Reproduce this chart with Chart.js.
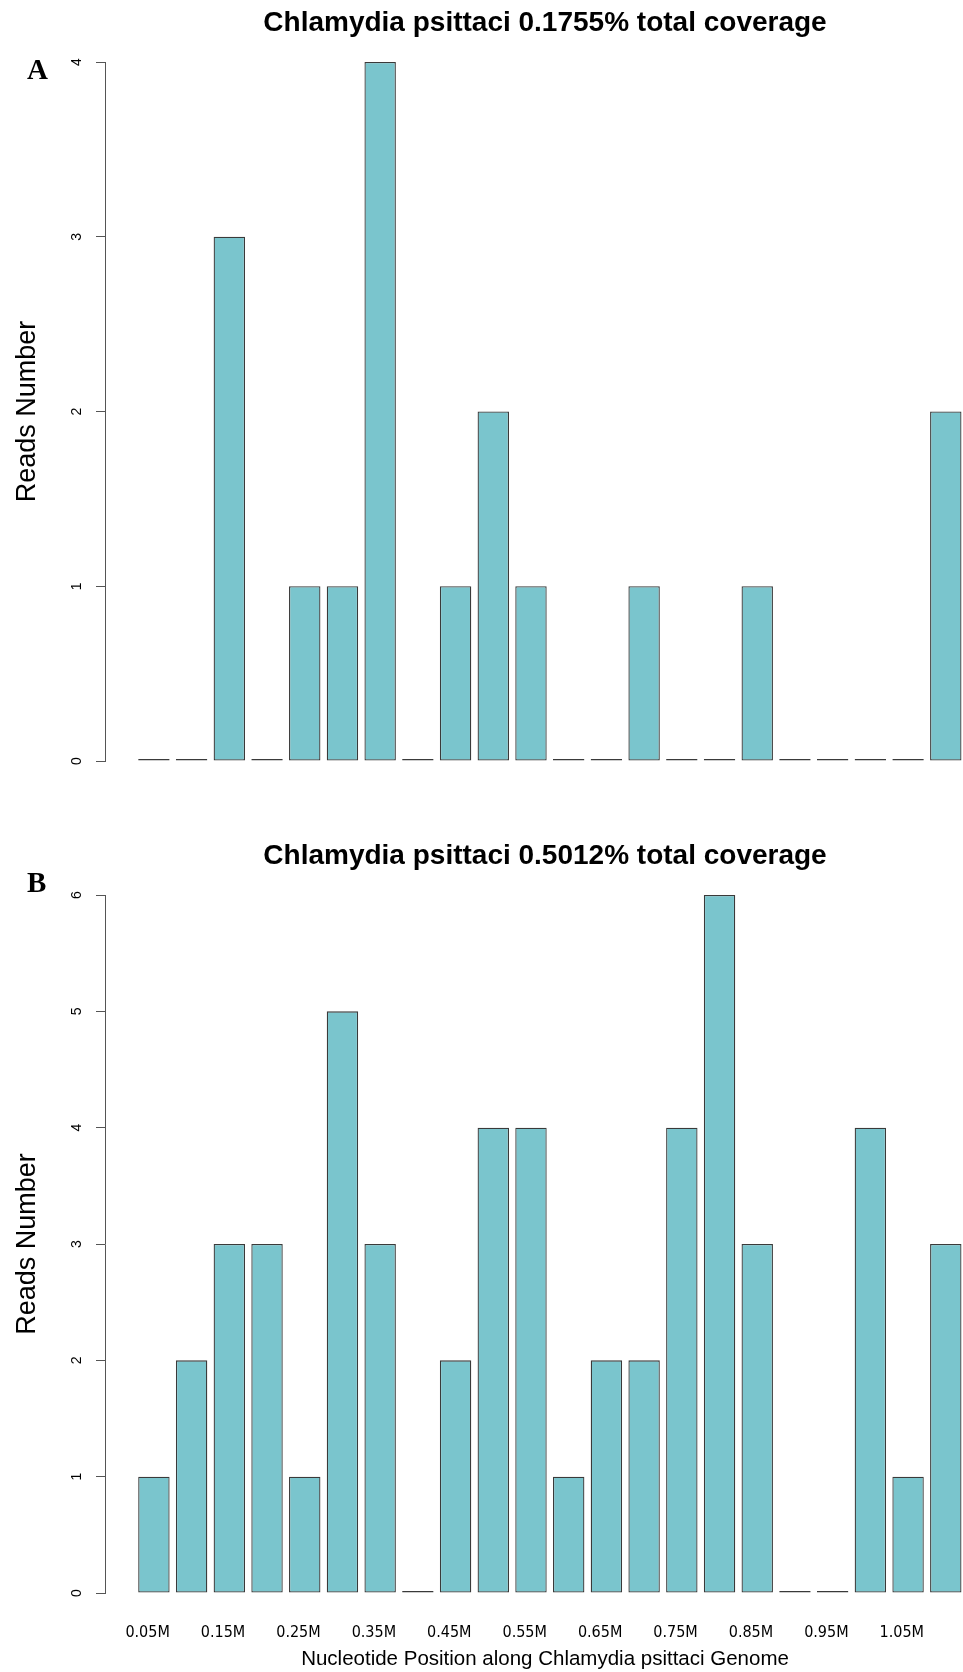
<!DOCTYPE html>
<html>
<head>
<meta charset="utf-8">
<script src="https://cdn.jsdelivr.net/npm/chart.js@4.4.1/dist/chart.umd.min.js"></script>
<style>
  html, body { margin: 0; padding: 0; background: #fff; }
  #page { position: relative; width: 963px; height: 1672px; overflow: hidden; }
  .box { position: absolute; left: 0; }
  #boxA { top: 0; }
  #boxB { top: 800px; }
  .tag { position: absolute; left: 27px; font-family: 'Liberation Serif', 'Times New Roman', serif;
         font-weight: bold; font-size: 29px; line-height: 29px; color: #000; }
</style>
</head>
<body>
<div id="page">
  <div class="box" id="boxA"><canvas id="chartA" width="985" height="800"></canvas></div>
  <div class="box" id="boxB"><canvas id="chartB" width="985" height="872"></canvas></div>
  <div class="tag" style="top:55px">A</div>
  <div class="tag" style="top:868px">B</div>
</div>
<script>
// ---- data ----
const positionLabels = ['0.05M', '0.15M', '0.25M', '0.35M', '0.45M', '0.55M',
                        '0.65M', '0.75M', '0.85M', '0.95M', '1.05M'];
const readsA = [0, 0, 3, 0, 1, 1, 4, 0, 1, 2, 1, 0, 0, 1, 0, 0, 1, 0, 0, 0, 0, 2];
const readsB = [1, 2, 3, 3, 1, 5, 3, 0, 2, 4, 4, 1, 2, 2, 4, 6, 3, 0, 0, 4, 1, 3];
const titleA = 'Chlamydia psittaci 0.1755% total coverage';
const titleB = 'Chlamydia psittaci 0.5012% total coverage';
const yTitle = 'Reads Number';
const xTitle = 'Nucleotide Position along Chlamydia psittaci Genome';

Chart.defaults.font.family = "'Liberation Sans', Arial, sans-serif";
Chart.defaults.color = '#000';

// label j sits every 2 bins, a little left of the bin centre (R axis positions)
const LABEL_START = -0.1667;
const LABEL_STEP = 2;

function makeChart(id, reads, title, yMax, showX, titlePad) {
   const ctx = document.getElementById(id).getContext('2d');
   return new Chart(ctx, {
      type: 'bar',
      data: {
         datasets: [{
            data: reads.map((v, i) => ({ x: i, y: v })),
            backgroundColor: '#7AC5CD',
            borderColor: '#3a3a3a',
            borderWidth: 1.3,
            borderSkipped: false,
            minBarLength: 2,
            barPercentage: 0.8333,
            categoryPercentage: 1,
         }],
      },
      options: {
         responsive: false,
         animation: false,
         layout: { padding: { left: 0, right: 0, top: 0, bottom: showX ? 0 : 39 } },
         scales: {
            x: {
               type: 'linear',
               display: showX,
               offset: false,
               min: -1.297,
               max: 22.04,
               grid: { display: false, drawTicks: false, offset: false },
               border: { display: false },
               afterBuildTicks: function(scale) {
                  scale.ticks = positionLabels.map((_, j) => ({ value: LABEL_START + j * LABEL_STEP }));
               },
               ticks: {
                  autoSkip: false,
                  minRotation: 0,
                  maxRotation: 0,
                  padding: 30,
                  font: { size: 16, family: "'Liberation Sans Narrow', 'DejaVu Sans Condensed', 'Liberation Sans', sans-serif" },
                  callback: (val, index) => positionLabels[index],
               },
               title: {
                  display: true,
                  text: xTitle,
                  font: { size: 20.5 },
                  padding: { top: 6, bottom: 0 },
               },
               afterFit: function(scale) { if (showX) scale.height = 79; },
            },
            y: {
               min: 0,
               max: yMax,
               ticks: {
                  stepSize: 1,
                  minRotation: 90,
                  maxRotation: 90,
                  crossAlign: 'center',
                  padding: 15,
                  font: { size: 14 },
               },
               grid: { drawOnChartArea: false, drawTicks: true, tickLength: 9, color: '#555', lineWidth: 1 },
               border: { display: true, color: '#555', width: 1 },
               title: {
                  display: true,
                  text: yTitle,
                  font: { size: 27 },
                  padding: { top: 11, bottom: 0 },
               },
               afterFit: function(scale) { scale.width = 105; },
            },
         },
         plugins: {
            legend: { display: false },
            tooltip: { enabled: false },
            title: {
               display: true,
               text: title,
               fullSize: false,
               font: { size: 28, weight: 'bold' },
               padding: titlePad,
            },
         },
      },
   });
}

makeChart('chartA', readsA, titleA, 4, false, { top: 6.7, bottom: 21.7 });
makeChart('chartB', readsB, titleB, 6, true, { top: 39.2, bottom: 22.2 });
</script>
</body>
</html>
